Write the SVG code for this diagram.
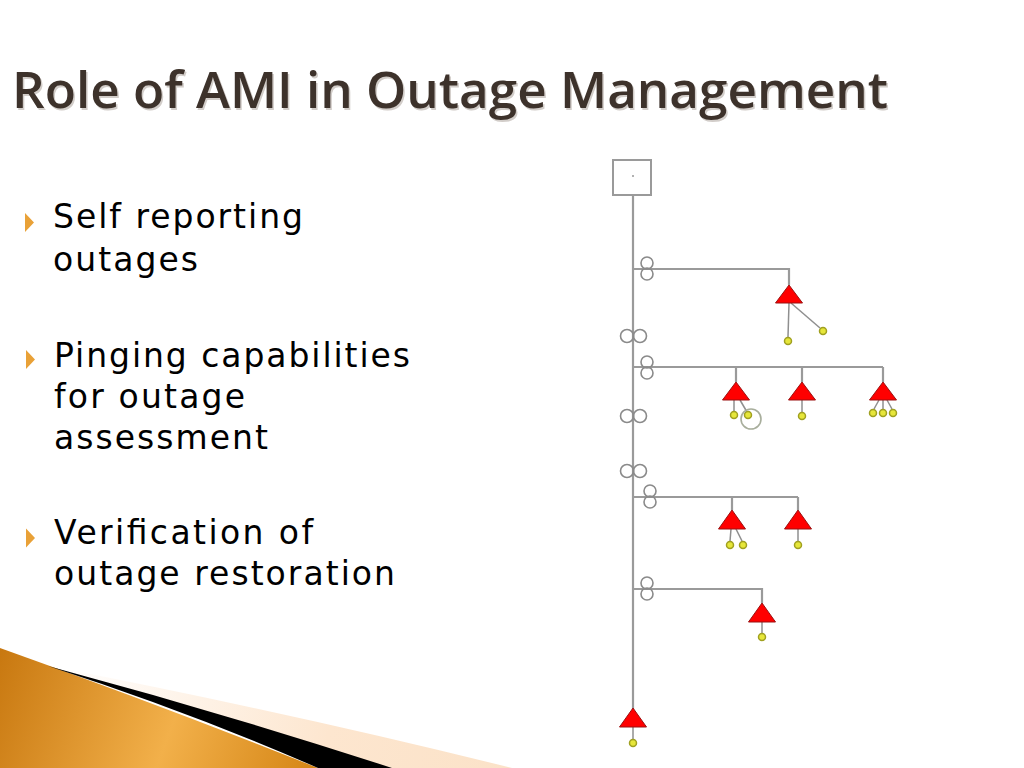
<svg xmlns="http://www.w3.org/2000/svg" width="1024" height="768" viewBox="0 0 1024 768">
  <defs>
    <linearGradient id="orangeGrad" x1="0" y1="650" x2="320" y2="768" gradientUnits="userSpaceOnUse">
      <stop offset="0" stop-color="#c87810"/>
      <stop offset="0.55" stop-color="#f2b04a"/>
      <stop offset="1" stop-color="#d48414"/>
    </linearGradient>
    <linearGradient id="peachGrad" x1="60" y1="668" x2="510" y2="768" gradientUnits="userSpaceOnUse">
      <stop offset="0" stop-color="#ffffff"/>
      <stop offset="0.6" stop-color="#fde6cf"/>
      <stop offset="1" stop-color="#fbe2c8"/>
    </linearGradient>
    <style>
      .title { font-family: "Open Sans", "DejaVu Sans", sans-serif; font-size: 50px; font-weight: 600; fill: #3d322b; }
      .titleShadow { font-family: "Open Sans", "DejaVu Sans", sans-serif; font-size: 50px; font-weight: 600; fill: #d2cdc9; }
      .body { font-family: "DejaVu Sans", "Liberation Sans", sans-serif; font-size: 33px; fill: #000000; }
      .bullet { fill: #e9a137; }
      .wire { stroke: #9a9a9a; stroke-width: 2.2; fill: none; }
      .tap { stroke: #8f8f8f; stroke-width: 1.5; fill: none; }
      .sw { stroke: #8a8a8a; stroke-width: 1.6; fill: none; }
      .tri { fill: #ff0000; stroke: #9a1010; stroke-width: 1; stroke-linejoin: round; }
      .meter { fill: #e6e63a; stroke: #a0a020; stroke-width: 1.5; }
      .ring { fill: none; stroke: #a8ae9c; stroke-width: 1.6; }
      .src { fill: #ffffff; stroke: #9a9a9a; stroke-width: 2; }
    </style>
  </defs>

  <rect x="0" y="0" width="1024" height="768" fill="#ffffff"/>

  <!-- Title -->
  <text class="titleShadow" x="13.5" y="110" textLength="876" lengthAdjust="spacingAndGlyphs">Role of AMI in Outage Management</text>
  <text class="title" x="12" y="108" textLength="876" lengthAdjust="spacingAndGlyphs">Role of AMI in Outage Management</text>

  <!-- Bullets -->
  <polygon class="bullet" points="25,213 34,222.5 25,232"/>
  <text class="body" x="53" y="228" textLength="250" lengthAdjust="spacing">Self reporting</text>
  <text class="body" x="53" y="271" textLength="145" lengthAdjust="spacing">outages</text>

  <polygon class="bullet" points="26,350 35,359.5 26,369"/>
  <text class="body" x="54" y="367" textLength="356" lengthAdjust="spacing">Pinging capabilities</text>
  <text class="body" x="54" y="408" textLength="191" lengthAdjust="spacing">for outage</text>
  <text class="body" x="54" y="449" textLength="214" lengthAdjust="spacing">assessment</text>

  <polygon class="bullet" points="26,528.5 35,538 26,547.5"/>
  <text class="body" x="54" y="544" textLength="259" lengthAdjust="spacing">Verification of</text>
  <text class="body" x="54" y="585" textLength="341" lengthAdjust="spacing">outage restoration</text>

  <!-- Bottom-left decoration -->
  <path d="M60,668 Q300,715 512,768 L390,768 Z" fill="url(#peachGrad)"/>
  <path d="M0,648 Q160,705 318,768 L0,768 Z" fill="url(#orangeGrad)"/>
  <path d="M48,666 Q220,712 392,768 L318,768 Q190,712 48,666 Z" fill="#000000"/>

  <!-- Connectors -->
  <g id="connectors">
    <line class="wire" x1="633" y1="195" x2="633" y2="709"/>
    <polyline class="wire" points="633,269 789,269 789,285"/>
    <line class="wire" x1="633" y1="367" x2="883" y2="367"/>
    <line class="wire" x1="736" y1="367" x2="736" y2="382"/>
    <line class="wire" x1="802" y1="367" x2="802" y2="382"/>
    <line class="wire" x1="883" y1="367" x2="883" y2="382"/>
    <line class="wire" x1="633" y1="497" x2="798" y2="497"/>
    <line class="wire" x1="732" y1="497" x2="732" y2="510"/>
    <line class="wire" x1="798" y1="497" x2="798" y2="510"/>
    <polyline class="wire" points="633,589 762,589 762,603"/>
    <!-- service taps -->
    <line class="tap" x1="789" y1="303" x2="788" y2="337"/>
    <line class="tap" x1="791" y1="303" x2="820" y2="328"/>
    <line class="tap" x1="734" y1="400" x2="734" y2="412"/>
    <line class="tap" x1="740" y1="400" x2="747" y2="412"/>
    <line class="tap" x1="802" y1="400" x2="802" y2="412"/>
    <line class="tap" x1="879" y1="400" x2="874" y2="409"/>
    <line class="tap" x1="883" y1="400" x2="883" y2="409"/>
    <line class="tap" x1="887" y1="400" x2="892" y2="409"/>
    <line class="tap" x1="731" y1="529" x2="730" y2="541"/>
    <line class="tap" x1="736" y1="529" x2="742" y2="541"/>
    <line class="tap" x1="798" y1="529" x2="798" y2="541"/>
    <line class="tap" x1="762" y1="622" x2="762" y2="633"/>
    <line class="tap" x1="633" y1="727" x2="633" y2="739"/>
  </g>

  <!-- Source -->
  <g id="source">
    <rect class="src" x="613" y="160" width="38" height="35"/>
    <circle cx="633" cy="176" r="1" fill="#999999"/>
  </g>

  <!-- Switches (vertical pairs) -->
  <g id="switch1">
    <circle class="sw" cx="647" cy="263" r="6"/>
    <circle class="sw" cx="647" cy="274" r="6"/>
  </g>
  <g id="switch2">
    <circle class="sw" cx="647" cy="362" r="6"/>
    <circle class="sw" cx="647" cy="373" r="6"/>
  </g>
  <g id="switch3">
    <circle class="sw" cx="650" cy="491" r="6"/>
    <circle class="sw" cx="650" cy="502" r="6"/>
  </g>
  <g id="switch4">
    <circle class="sw" cx="647" cy="583" r="6"/>
    <circle class="sw" cx="647" cy="594" r="6"/>
  </g>

  <!-- Sectionalizers (horizontal pairs) -->
  <g id="sect1">
    <circle class="sw" cx="627" cy="336" r="6.5"/>
    <circle class="sw" cx="640" cy="336" r="6.5"/>
  </g>
  <g id="sect2">
    <circle class="sw" cx="627" cy="416" r="6.5"/>
    <circle class="sw" cx="640" cy="416" r="6.5"/>
  </g>
  <g id="sect3">
    <circle class="sw" cx="627" cy="471" r="6.5"/>
    <circle class="sw" cx="640" cy="471" r="6.5"/>
  </g>

  <!-- Transformers with meters -->
  <g id="xfmr1">
    <polygon class="tri" points="789,285 802.5,303 775.5,303"/>
    <circle class="meter" cx="788" cy="341" r="3.5"/>
    <circle class="meter" cx="823" cy="331" r="3.5"/>
  </g>
  <g id="xfmr2a">
    <polygon class="tri" points="736,382 749.5,400 722.5,400"/>
    <circle class="meter" cx="734" cy="415" r="3.5"/>
    <circle class="meter" cx="748" cy="415" r="3.5"/>
    <circle class="ring" cx="751" cy="419" r="10"/>
  </g>
  <g id="xfmr2b">
    <polygon class="tri" points="802,382 815.5,400 788.5,400"/>
    <circle class="meter" cx="802" cy="416" r="3.5"/>
  </g>
  <g id="xfmr2c">
    <polygon class="tri" points="883,382 896.5,400 869.5,400"/>
    <circle class="meter" cx="873" cy="413" r="3.5"/>
    <circle class="meter" cx="883" cy="413" r="3.5"/>
    <circle class="meter" cx="893" cy="413" r="3.5"/>
  </g>
  <g id="xfmr3a">
    <polygon class="tri" points="732,510 745.5,529 718.5,529"/>
    <circle class="meter" cx="730" cy="545" r="3.5"/>
    <circle class="meter" cx="743" cy="545" r="3.5"/>
  </g>
  <g id="xfmr3b">
    <polygon class="tri" points="798,510 811.5,529 784.5,529"/>
    <circle class="meter" cx="798" cy="545" r="3.5"/>
  </g>
  <g id="xfmr4">
    <polygon class="tri" points="762,603 775.5,622 748.5,622"/>
    <circle class="meter" cx="762" cy="637" r="3.5"/>
  </g>
  <g id="xfmr5">
    <polygon class="tri" points="633,708 646.5,727 619.5,727"/>
    <circle class="meter" cx="633" cy="743" r="3.5"/>
  </g>
</svg>
